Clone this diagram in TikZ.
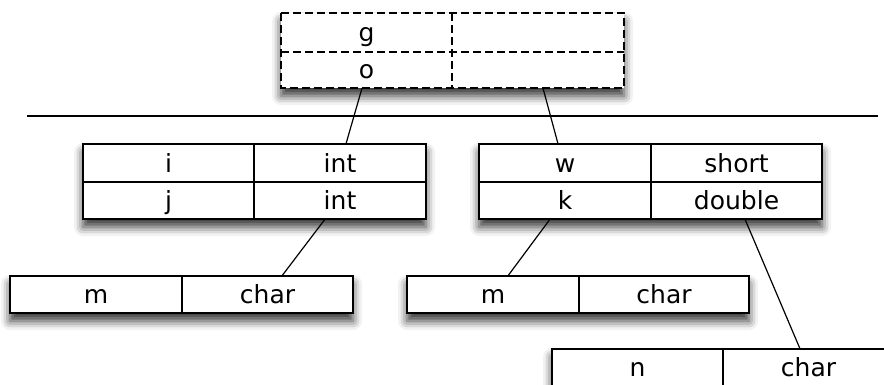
\documentclass[tikz,border=0pt]{standalone}
\usepackage{fontspec}
\setmainfont{DejaVu Sans}
\usetikzlibrary{shadows.blur}
\begin{document}
\begin{tikzpicture}[x=1pt,y=-1pt,
  cell/.style={inner sep=0pt, text height=18pt, text depth=0pt,
    font=\fontsize{25}{28}\selectfont},
  frame/.style={fill=white, line width=1.8pt,
    blur shadow={shadow xshift=0pt, shadow yshift=-8pt, shadow blur radius=9pt, shadow opacity=80}},
  grid/.style={line width=1.8pt},
  dgrid/.style={line width=1.8pt, dash pattern=on 8pt off 4pt},
  conn/.style={line width=1.2pt}]
\useasboundingbox (0,0) rectangle (884,385);
\clip (0,0) rectangle (884,385);

% ---- top dashed table
\path[frame] (281,13) rectangle (624,88);
\node[cell, minimum width=171pt, minimum height=39pt] (t0g) at (366.5,32.5) {g};
\node[cell, minimum width=172pt, minimum height=39pt] (t0a) at (538,32.5) {};
\node[cell, minimum width=171pt, minimum height=36pt] (t0o) at (366.5,70) {o};
\node[cell, minimum width=172pt, minimum height=36pt] (t0b) at (538,70) {};
\draw[dgrid] (281,13) rectangle (624,88);
\draw[dgrid] (281,52) -- (624,52);
\draw[dgrid] (452,13) -- (452,88);

% ---- separator line
\coordinate (hl) at (27,116);
\coordinate (hr) at (878,116);
\draw[line width=1.6pt] (hl) -- (hr);

% ---- table 1
\path[frame] (83,144) rectangle (426,219);
\node[cell, minimum width=171pt, minimum height=38pt] (t1i) at (168.5,163) {i};
\node[cell, minimum width=172pt, minimum height=38pt] (t1it) at (340,163) {int};
\node[cell, minimum width=171pt, minimum height=37pt] (t1j) at (168.5,200.5) {j};
\node[cell, minimum width=172pt, minimum height=37pt] (t1jt) at (340,200.5) {int};
\draw[grid] (83,144) rectangle (426,219);
\draw[grid] (83,182) -- (426,182);
\draw[grid] (254,144) -- (254,219);

% ---- table 2
\path[frame] (479,144) rectangle (822,219);
\node[cell, minimum width=172pt, minimum height=38pt] (t2w) at (565,163) {w};
\node[cell, minimum width=171pt, minimum height=38pt] (t2wt) at (736.5,163) {short};
\node[cell, minimum width=172pt, minimum height=37pt] (t2k) at (565,200.5) {k};
\node[cell, minimum width=171pt, minimum height=37pt] (t2kt) at (736.5,200.5) {double};
\draw[grid] (479,144) rectangle (822,219);
\draw[grid] (479,182) -- (822,182);
\draw[grid] (651,144) -- (651,219);

% ---- table 3
\path[frame] (10,276) rectangle (353,313);
\node[cell, minimum width=172pt, minimum height=37pt] (t3m) at (96,294.5) {m};
\node[cell, minimum width=171pt, minimum height=37pt] (t3c) at (267.5,294.5) {char};
\draw[grid] (10,276) rectangle (353,313);
\draw[grid] (182,276) -- (182,313);

% ---- table 4
\path[frame] (407,276) rectangle (749,313);
\node[cell, minimum width=172pt, minimum height=37pt] (t4m) at (493,294.5) {m};
\node[cell, minimum width=170pt, minimum height=37pt] (t4c) at (664,294.5) {char};
\draw[grid] (407,276) rectangle (749,313);
\draw[grid] (579,276) -- (579,313);

% ---- table 5 (cut off by the page)
\path[frame] (552,349) rectangle (894,386);
\node[cell, minimum width=171pt, minimum height=37pt] (t5n) at (637.5,367.5) {n};
\node[cell, minimum width=171pt, minimum height=37pt] (t5c) at (808.5,367.5) {char};
\draw[grid] (552,349) rectangle (894,386);
\draw[grid] (723,349) -- (723,386);

% ---- connectors
\draw[conn] ([xshift=-4.5pt]t0o.south) -- ([xshift=6pt]t1it.north);
\draw[conn] ([xshift=5pt]t0b.south) -- ([xshift=-7pt]t2w.north);
\draw[conn] ([xshift=-15pt]t1jt.south) -- ([xshift=14.5pt]t3c.north);
\draw[conn] ([xshift=-15pt]t2k.south) -- ([xshift=15pt]t4m.north);
\draw[conn] ([xshift=8.5pt]t2kt.south) -- ([xshift=-8.5pt]t5c.north);
\end{tikzpicture}
\end{document}
